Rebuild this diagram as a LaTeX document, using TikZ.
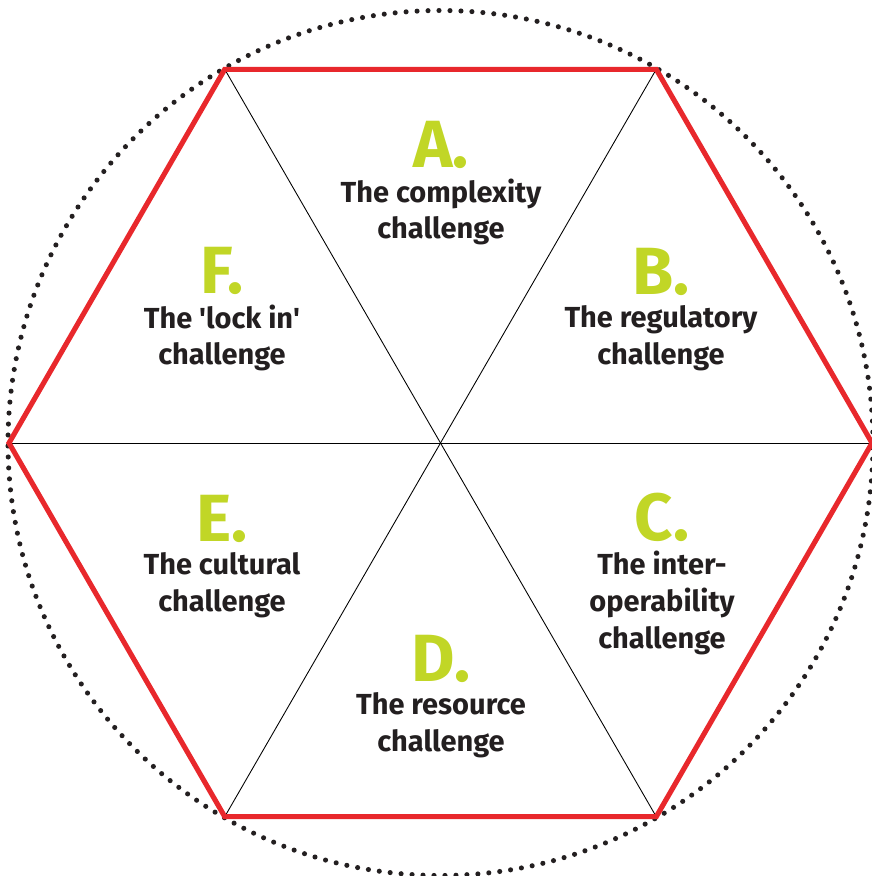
\documentclass[tikz,border=0pt]{standalone}
\usepackage{fontspec}
\setmainfont{Fira Sans}
\usetikzlibrary{positioning}

\definecolor{hexred}{RGB}{232,40,44}
\definecolor{letgreen}{RGB}{193,214,38}
\definecolor{txtblack}{RGB}{35,31,32}

\tikzset{
  spoke/.style = {draw = black, line width = 0.5pt},
  rim/.style = {draw = hexred, line width = 2.9pt, line join = miter},
  ring/.style = {draw = txtblack, line width = 2.9pt, line cap = round, dash pattern = on 0pt off 6.25pt},
  lettr/.style = {text = letgreen, font = \fontsize{38}{38}\selectfont\bfseries, inner sep = 0pt},
  caption/.style = {text = txtblack, align = center, font = \fontsize{16.5}{21}\selectfont\bfseries, inner sep = 0pt}
}

\begin{document}
\begin{tikzpicture}
\useasboundingbox (-8.81,-8.66) rectangle (8.63,8.86);
\coordinate (O) at (0,0);
\foreach \i in {0,...,5} {
  \coordinate (h\i) at (\i*60:8.63);
}
\draw[ring] (O) circle (8.65);
\foreach \i in {0,...,5} {
  \draw[spoke] (O) -- (h\i);
}
\draw[rim] (h0) -- (h1) -- (h2) -- (h3) -- (h4) -- (h5) -- cycle;

\node[caption] (tA) at (0.01,4.62) {The complexity\\challenge};
\node[caption] (tB) at (4.41,2.1) {The regulatory\\challenge};
\node[caption] (tC) at (4.43,-3.2) {The inter-\\operability\\challenge};
\node[caption] (tD) at (0.01,-5.64) {The resource\\challenge};
\node[caption] (tE) at (-4.37,-2.84) {The cultural\\challenge};
\node[caption] (tF) at (-4.37,2.1) {The \textquotesingle lock in\textquotesingle\\challenge};

\node[lettr, above = 5pt of tA] (lA) {A.};
\node[lettr, above = 5pt of tB] (lB) {B.};
\node[lettr, above = 5pt of tC] (lC) {C.};
\node[lettr, above = 5pt of tD] (lD) {D.};
\node[lettr, above = 5pt of tE] (lE) {E.};
\node[lettr, above = 5pt of tF] (lF) {F.};
\end{tikzpicture}
\end{document}
